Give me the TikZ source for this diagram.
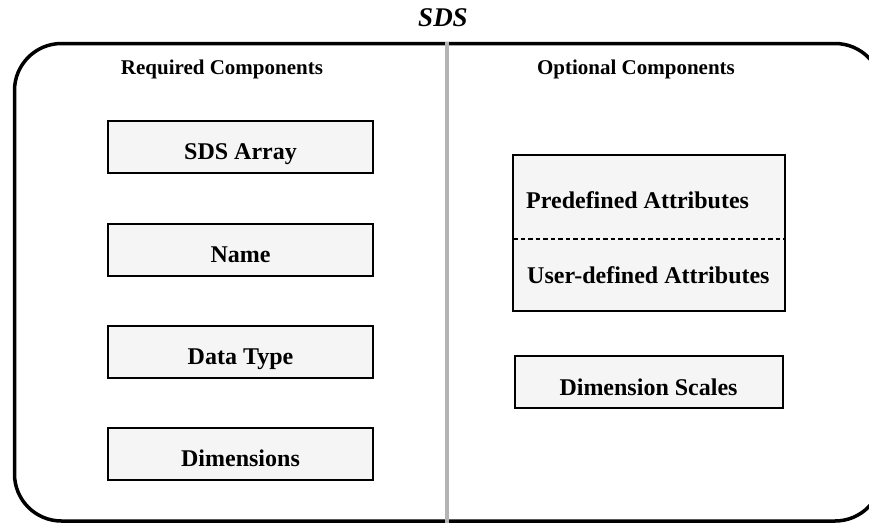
\documentclass[tikz,border=0pt]{standalone}
\usepackage{fontspec}
\setmainfont{Liberation Serif}
\definecolor{boxfill}{HTML}{F5F5F5}
\definecolor{divgray}{HTML}{B4B4B4}
\tikzset{
  compbox/.style={draw=black, line width=2.5pt, fill=boxfill},
  boxtext/.style={font=\fontsize{24}{28}\selectfont\bfseries, inner sep=0pt},
  headtext/.style={font=\fontsize{21}{25}\selectfont\bfseries, inner sep=0pt, anchor=base},
}
\begin{document}
\begin{tikzpicture}[x=1pt,y=-1pt]
\useasboundingbox (0,0) rectangle (869,523);
\clip (0,0) rectangle (869,523);
% outer frame
\draw[line width=3.5pt, rounded corners=47pt] (14.5,43.5) rectangle (882,521);
% divider
\coordinate (dtop) at (446.5,42);
\coordinate (dbot) at (446.5,523);
\draw[divgray, line width=4pt] (dtop) -- (dbot);
% title
\node[anchor=base, inner sep=0pt, font=\fontsize{27}{32}\selectfont\bfseries\itshape] (title) at (443,26) {SDS};
% headings
\node[headtext] (hreq) at (222,74) {Required Components};
\node[headtext] (hopt) at (636,74) {Optional Components};
% left boxes
\foreach \n/\t/\lab in {b1/121/SDS Array, b2/224/Name, b3/326/Data Type, b4/428/Dimensions}{
  \path[compbox] (108,\t) rectangle (373,\t+52);
  \node[boxtext, anchor=base] (\n) at (240.5,\t+38.5) {\lab};
}
% attributes box
\path[compbox] (513,155) rectangle (785,311);
\coordinate (dl) at (513,239);
\coordinate (dr) at (785,239);
\draw[line width=1.5pt, dash pattern=on 4.5pt off 3pt] (dl) -- (dr);
\node[boxtext, anchor=base west] (pre) at (526,208) {Predefined Attributes};
\node[boxtext, anchor=base west] (usr) at (527,283) {User-defined Attributes};
% dimension scales
\path[compbox] (515,356) rectangle (783,408);
\node[boxtext, anchor=base] (ds) at (648.5,395) {Dimension Scales};
\end{tikzpicture}
\end{document}
